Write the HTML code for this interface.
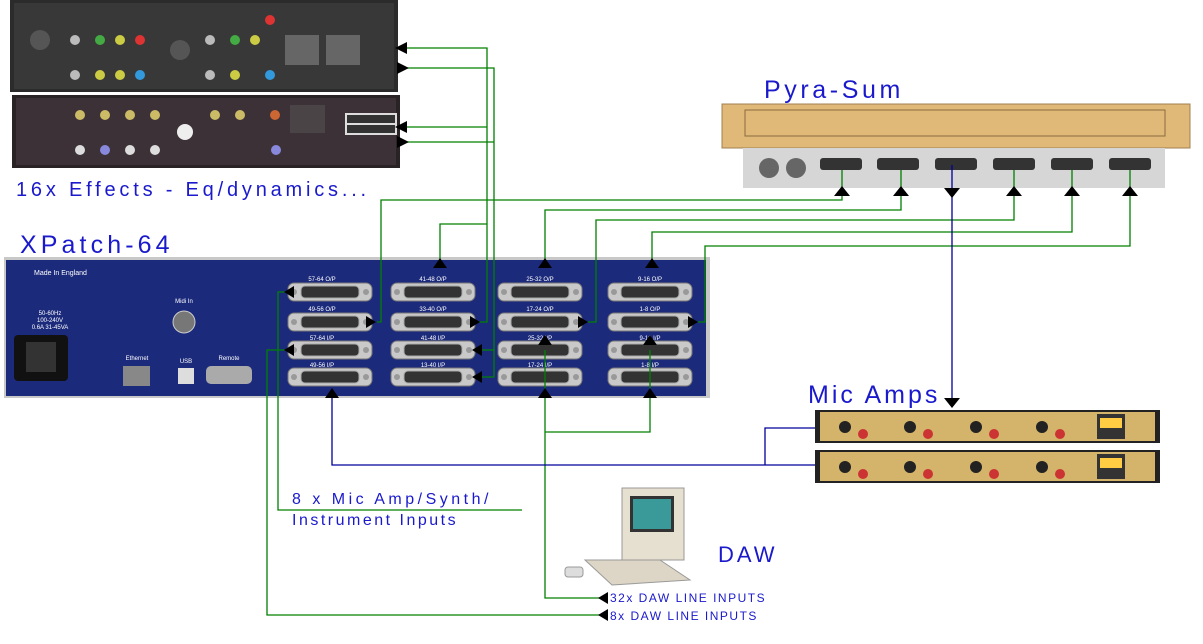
<!DOCTYPE html>
<html><head><meta charset="utf-8"><style>
html,body{margin:0;padding:0;background:#fff;}
svg{display:block}
.t{font-family:"Liberation Sans",sans-serif;fill:#1a1acc;}
.cl{font-family:"Liberation Sans",sans-serif;fill:#fff;font-size:6px;text-anchor:middle}
</style></head><body>
<svg width="1203" height="644" viewBox="0 0 1203 644" xmlns="http://www.w3.org/2000/svg">
<defs>
<g id="db">
<rect x="-42" y="-9" width="84" height="18" rx="6" fill="#c9c9c9" stroke="#777"/>
<circle cx="-36" cy="0" r="3" fill="#999"/><circle cx="36" cy="0" r="3" fill="#999"/>
<rect x="-29" y="-6" width="58" height="12" rx="4" fill="#333" stroke="#aaa"/>
</g>
</defs>

<!-- Effects racks -->
<rect x="10" y="0" width="388" height="92" fill="#2b2b2b"/>
<rect x="14" y="3" width="380" height="86" fill="#383838"/>
<g fill="#ddd">
<circle cx="40" cy="40" r="10" fill="#555"/><circle cx="180" cy="50" r="10" fill="#555"/>
<circle cx="75" cy="40" r="5" fill="#bbb"/><circle cx="100" cy="40" r="5" fill="#4a4"/><circle cx="120" cy="40" r="5" fill="#cc4"/><circle cx="140" cy="40" r="5" fill="#d33"/>
<circle cx="75" cy="75" r="5" fill="#bbb"/><circle cx="100" cy="75" r="5" fill="#cc4"/><circle cx="120" cy="75" r="5" fill="#cc4"/><circle cx="140" cy="75" r="5" fill="#39d"/>
<circle cx="210" cy="40" r="5" fill="#bbb"/><circle cx="235" cy="40" r="5" fill="#4a4"/><circle cx="255" cy="40" r="5" fill="#cc4"/><circle cx="270" cy="20" r="5" fill="#d33"/>
<circle cx="210" cy="75" r="5" fill="#bbb"/><circle cx="235" cy="75" r="5" fill="#cc4"/><circle cx="270" cy="75" r="5" fill="#39d"/>
</g>
<rect x="285" y="35" width="34" height="30" fill="#666"/><rect x="326" y="35" width="34" height="30" fill="#666"/>
<rect x="12" y="95" width="388" height="73" fill="#2a2326"/>
<rect x="16" y="98" width="380" height="67" fill="#3b3136"/>
<g>
<circle cx="80" cy="115" r="5" fill="#cb6"/><circle cx="105" cy="115" r="5" fill="#cb6"/><circle cx="130" cy="115" r="5" fill="#cb6"/><circle cx="155" cy="115" r="5" fill="#cb6"/>
<circle cx="185" cy="132" r="8" fill="#eee"/><circle cx="80" cy="150" r="5" fill="#ddd"/><circle cx="105" cy="150" r="5" fill="#88d"/><circle cx="130" cy="150" r="5" fill="#ddd"/><circle cx="155" cy="150" r="5" fill="#ddd"/>
<circle cx="215" cy="115" r="5" fill="#cb6"/><circle cx="240" cy="115" r="5" fill="#cb6"/><circle cx="275" cy="115" r="5" fill="#c63"/><circle cx="276" cy="150" r="5" fill="#88d"/>
</g>
<rect x="290" y="105" width="35" height="28" fill="#4a4446"/>
<rect x="345" y="113" width="52" height="22" fill="#ddd"/><rect x="347" y="115" width="48" height="8" fill="#333"/><rect x="347" y="125" width="48" height="8" fill="#333"/>

<!-- XPatch panel -->
<rect x="4" y="257" width="706" height="141" fill="#c8c8c8"/>
<rect x="6" y="260" width="700" height="136" fill="#1c2a7c"/>
<text x="34" y="275" class="cl" style="text-anchor:start;font-size:7px">Made In England</text>
<text x="50" y="315" class="cl" style="font-size:6px">50-60Hz</text>
<text x="50" y="322" class="cl" style="font-size:6px">100-240V</text>
<text x="50" y="329" class="cl" style="font-size:6px">0.6A 31-45VA</text>
<rect x="14" y="335" width="54" height="46" rx="4" fill="#111"/><rect x="26" y="342" width="30" height="30" fill="#333"/>
<circle cx="184" cy="322" r="11" fill="#777" stroke="#ccc"/>
<text x="184" y="303" class="cl">Midi In</text>
<rect x="123" y="366" width="27" height="20" fill="#888"/><rect x="178" y="368" width="16" height="16" fill="#ddd"/>
<rect x="206" y="366" width="46" height="18" rx="5" fill="#aaa"/>
<text x="137" y="360" class="cl">Ethernet</text><text x="186" y="363" class="cl">USB</text><text x="229" y="360" class="cl">Remote</text>
<g>
<use href="#db" x="330" y="292"/><use href="#db" x="330" y="322"/><use href="#db" x="330" y="350"/><use href="#db" x="330" y="377"/>
<use href="#db" x="433" y="292"/><use href="#db" x="433" y="322"/><use href="#db" x="433" y="350"/><use href="#db" x="433" y="377"/>
<use href="#db" x="540" y="292"/><use href="#db" x="540" y="322"/><use href="#db" x="540" y="350"/><use href="#db" x="540" y="377"/>
<use href="#db" x="650" y="292"/><use href="#db" x="650" y="322"/><use href="#db" x="650" y="350"/><use href="#db" x="650" y="377"/>
</g>
<g class="cl">
<text x="322" y="281">57-64 O/P</text><text x="322" y="311">49-56 O/P</text><text x="322" y="340">57-64 I/P</text><text x="322" y="367">49-56 I/P</text>
<text x="433" y="281">41-48 O/P</text><text x="433" y="311">33-40 O/P</text><text x="433" y="340">41-48 I/P</text><text x="433" y="367">13-40 I/P</text>
<text x="540" y="281">25-32 O/P</text><text x="540" y="311">17-24 O/P</text><text x="540" y="340">25-32 I/P</text><text x="540" y="367">17-24 I/P</text>
<text x="650" y="281">9-16 O/P</text><text x="650" y="311">1-8 O/P</text><text x="650" y="340">9-16 I/P</text><text x="650" y="367">1-8 I/P</text>
</g>

<!-- Pyra-Sum -->
<rect x="722" y="104" width="468" height="44" fill="#e0b878" stroke="#a08050"/>
<rect x="745" y="110" width="420" height="26" fill="none" stroke="#8a6a40"/>
<rect x="743" y="148" width="422" height="40" fill="#d6d6d6"/>
<circle cx="769" cy="168" r="10" fill="#666"/><circle cx="796" cy="168" r="10" fill="#666"/>
<g fill="#333"><rect x="820" y="158" width="42" height="12" rx="3"/><rect x="877" y="158" width="42" height="12" rx="3"/><rect x="935" y="158" width="42" height="12" rx="3"/><rect x="993" y="158" width="42" height="12" rx="3"/><rect x="1051" y="158" width="42" height="12" rx="3"/><rect x="1109" y="158" width="42" height="12" rx="3"/></g>

<!-- Mic amps -->
<rect x="815" y="410" width="345" height="33" fill="#222"/><rect x="820" y="412" width="335" height="29" fill="#d4b46a"/>
<rect x="815" y="450" width="345" height="33" fill="#222"/><rect x="820" y="452" width="335" height="29" fill="#d4b46a"/>
<g fill="#c33"><circle cx="863" cy="434" r="5"/><circle cx="928" cy="434" r="5"/><circle cx="994" cy="434" r="5"/><circle cx="1060" cy="434" r="5"/><circle cx="863" cy="474" r="5"/><circle cx="928" cy="474" r="5"/><circle cx="994" cy="474" r="5"/><circle cx="1060" cy="474" r="5"/></g>
<g fill="#222"><circle cx="845" cy="427" r="6"/><circle cx="910" cy="427" r="6"/><circle cx="976" cy="427" r="6"/><circle cx="1042" cy="427" r="6"/><circle cx="845" cy="467" r="6"/><circle cx="910" cy="467" r="6"/><circle cx="976" cy="467" r="6"/><circle cx="1042" cy="467" r="6"/></g>
<rect x="1097" y="414" width="28" height="25" fill="#333"/><rect x="1100" y="418" width="22" height="10" fill="#fc4"/>
<rect x="1097" y="454" width="28" height="25" fill="#333"/><rect x="1100" y="458" width="22" height="10" fill="#fc4"/>

<!-- DAW computer -->
<rect x="622" y="488" width="62" height="72" fill="#e6e0d0" stroke="#999"/>
<rect x="630" y="496" width="44" height="36" fill="#333"/><rect x="633" y="499" width="38" height="30" fill="#3a9a9a"/>
<polygon points="585,560 660,560 690,580 612,585" fill="#ddd6c6" stroke="#999"/>
<rect x="565" y="567" width="18" height="10" rx="3" fill="#ddd" stroke="#999"/>

<!-- green wires -->
<g stroke="#008000" stroke-width="1.3" fill="none">
<polyline points="842,170 842,200 381,200 381,322 377,322"/>
<polyline points="901,170 901,210 545,210 545,266"/>
<polyline points="1014,170 1014,220 596,220 596,322 588,322"/>
<polyline points="1072,170 1072,232 652,232 652,266"/>
<polyline points="1130,170 1130,246 705,246 705,322 698,322"/>
<polyline points="406,48 487,48 487,322 478,322"/>
<polyline points="487,224 440,224 440,266"/>
<polyline points="406,68 494,68 494,377 482,377"/>
<polyline points="406,127 487,127"/>
<polyline points="406,142 494,142"/>
<polyline points="494,350 482,350"/>
<polyline points="290,292 278,292 278,510 522,510"/>
<polyline points="290,350 267,350 267,615 605,615"/>
<polyline points="545,350 545,598 600,598"/>
<polyline points="545,432 650,432 650,350"/>
</g>
<!-- blue wires -->
<g stroke="#00009a" stroke-width="1.3" fill="none">
<polyline points="952,165 952,398"/>
<polyline points="332,395 332,465 815,465"/>
<polyline points="765,465 765,428 815,428"/>
</g>

<!-- arrows -->
<g fill="#000">
<polygon points="395,48 407,42 407,54"/><polygon points="397,62 409,68 397,74"/>
<polygon points="395,127 407,121 407,133"/><polygon points="397,136 409,142 397,148"/>
<polygon points="834,196 842,186 850,196"/><polygon points="893,196 901,186 909,196"/><polygon points="944,188 960,188 952,198"/>
<polygon points="1006,196 1014,186 1022,196"/><polygon points="1064,196 1072,186 1080,196"/><polygon points="1122,196 1130,186 1138,196"/>
<polygon points="944,398 960,398 952,408"/>
<polygon points="433,268 440,258 447,268"/><polygon points="538,268 545,258 552,268"/><polygon points="645,268 652,258 659,268"/>
<polygon points="284,292 294,286 294,298"/><polygon points="284,350 294,344 294,356"/>
<polygon points="366,316 376,322 366,328"/><polygon points="470,316 480,322 470,328"/><polygon points="578,316 588,322 578,328"/><polygon points="688,316 698,322 688,328"/>
<polygon points="472,350 482,344 482,356"/><polygon points="472,377 482,371 482,383"/>
<polygon points="325,398 332,388 339,398"/><polygon points="538,398 545,388 552,398"/><polygon points="538,345 545,335 552,345"/>
<polygon points="643,398 650,388 657,398"/><polygon points="643,345 650,335 657,345"/>
<polygon points="598,598 608,592 608,604"/><polygon points="598,615 608,609 608,621"/>
</g>

<!-- labels -->
<text x="16" y="196" class="t" font-size="20" letter-spacing="3.8">16x Effects - Eq/dynamics...</text>
<text x="20" y="253" class="t" font-size="25" letter-spacing="4.1">XPatch-64</text>
<text x="764" y="98" class="t" font-size="25" letter-spacing="3.6">Pyra-Sum</text>
<text x="808" y="403" class="t" font-size="25" letter-spacing="3">Mic Amps</text>
<text x="718" y="562" class="t" font-size="22" letter-spacing="3">DAW</text>
<text x="292" y="504" class="t" font-size="16" letter-spacing="3.5">8 x Mic Amp/Synth/</text>
<text x="292" y="525" class="t" font-size="16" letter-spacing="2.5">Instrument Inputs</text>
<text x="610" y="602" class="t" font-size="12" letter-spacing="1.5">32x DAW LINE INPUTS</text>
<text x="610" y="620" class="t" font-size="12" letter-spacing="1.5">8x DAW LINE INPUTS</text>
</svg>
</body></html>
